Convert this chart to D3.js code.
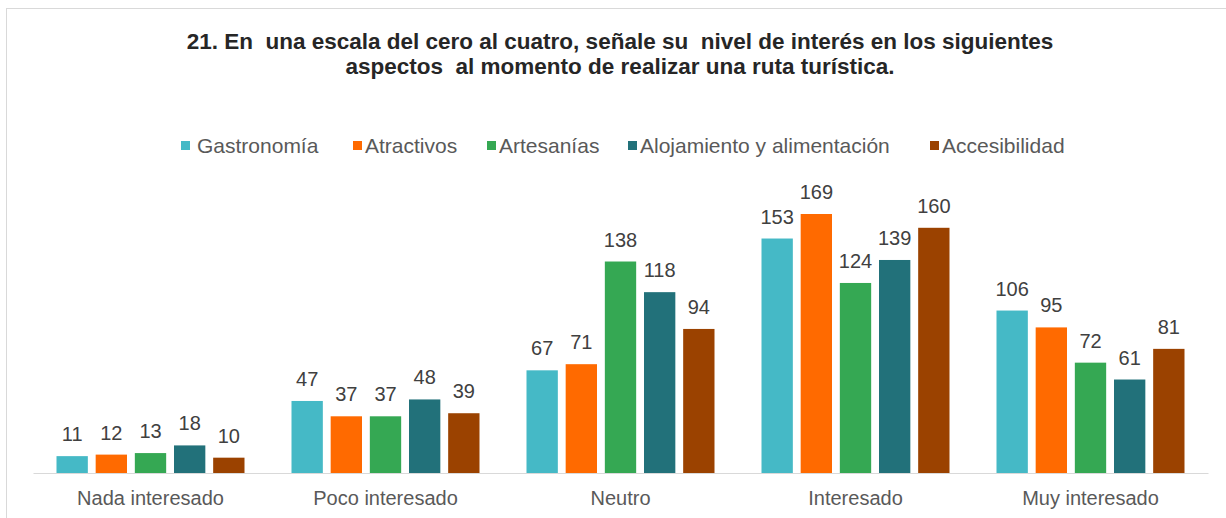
<!DOCTYPE html>
<html>
<head>
<meta charset="utf-8">
<script src="https://cdn.jsdelivr.net/npm/d3@7"></script>
<style>
  body { margin: 0; background: #fff; }
  text { font-family: "Liberation Sans", Arial, sans-serif; }
</style>
</head>
<body>
<div id="chart-area"></div>
<script>
const categories = ["Nada interesado", "Poco interesado", "Neutro", "Interesado", "Muy interesado"];
const seriesNames = ["Gastronomía", "Atractivos", "Artesanías", "Alojamiento y alimentación", "Accesibilidad"];
const gastronomia = [11, 47, 67, 153, 106];
const atractivos = [12, 37, 71, 169, 95];
const artesanias = [13, 37, 138, 124, 72];
const alojamiento = [18, 48, 118, 139, 61];
const accesibilidad = [10, 39, 94, 160, 81];
const colors = ["#45b9c6", "#ff6a00", "#35a853", "#22717a", "#9b4200"];

const series = [gastronomia, atractivos, artesanias, alojamiento, accesibilidad];
const W = 1226, H = 518;

const svg = d3.select("#chart-area")
  .append("svg")
  .attr("width", W)
  .attr("height", H);

// frame
svg.append("rect")
  .attr("x", 6.5).attr("y", 8.5)
  .attr("width", W).attr("height", H)
  .attr("fill", "none")
  .attr("stroke", "#d9d9d9");

// title
const title = svg.append("text")
  .attr("text-anchor", "middle")
  .attr("font-size", "22.5px")
  .attr("font-weight", "bold")
  .attr("fill", "#262626")
  .style("white-space", "pre");
title.append("tspan").attr("x", 620).attr("y", 49)
  .text("21. En  una escala del cero al cuatro, señale su  nivel de interés en los siguientes");
title.append("tspan").attr("x", 620).attr("y", 74)
  .text("aspectos  al momento de realizar una ruta turística.");

// scales
const x0 = d3.scaleBand().domain(categories).range([33, 1208]).paddingInner(0.2).paddingOuter(0.1);
const x1 = d3.scaleBand().domain(d3.range(seriesNames.length)).range([0, x0.bandwidth()]).paddingInner(0.2);
const y = d3.scaleLinear().domain([0, 169]).range([473, 214]);

const groups = svg.selectAll("g.cat")
  .data(categories)
  .enter().append("g")
  .attr("class", "cat")
  .attr("transform", d => `translate(${x0(d)},0)`);

groups.selectAll("rect")
  .data((d, i) => series.map((s, j) => ({ v: s[i], j })))
  .enter().append("rect")
  .attr("x", d => x1(d.j))
  .attr("width", x1.bandwidth())
  .attr("y", d => y(d.v))
  .attr("height", d => y(0) - y(d.v))
  .attr("fill", d => colors[d.j]);

groups.selectAll("text.val")
  .data((d, i) => series.map((s, j) => ({ v: s[i], j })))
  .enter().append("text")
  .attr("class", "val")
  .attr("x", d => x1(d.j) + x1.bandwidth() / 2)
  .attr("y", d => y(d.v) - 15)
  .attr("text-anchor", "middle")
  .attr("font-size", "20px")
  .attr("fill", "#404040")
  .text(d => d.v);

// x axis
const xAxis = svg.append("g")
  .attr("transform", `translate(0,${y(0)})`)
  .call(d3.axisBottom(x0).tickSize(0).tickSizeOuter(0));
xAxis.select(".domain").attr("stroke", "#d9d9d9");
xAxis.selectAll("text")
  .attr("dy", 0).attr("y", 32)
  .attr("font-size", "20px")
  .attr("fill", "#595959")
  .attr("font-family", "Liberation Sans, Arial, sans-serif");

// legend
const legendX = [181, 353, 487, 628, 930];
const legend = svg.selectAll("g.legend")
  .data(seriesNames)
  .enter().append("g")
  .attr("class", "legend")
  .attr("transform", (d, i) => `translate(${legendX[i]},153)`);
legend.append("rect")
  .attr("x", 0).attr("y", -12)
  .attr("width", 9).attr("height", 9)
  .attr("fill", (d, i) => colors[i]);
legend.append("text")
  .attr("x", (d, i) => i === 0 ? 16 : 12).attr("y", 0)
  .attr("font-size", "21px")
  .attr("fill", "#595959")
  .text(d => d);
</script>
</body>
</html>
